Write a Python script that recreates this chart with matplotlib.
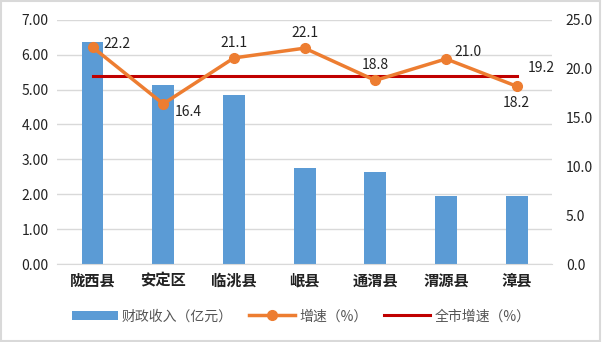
import matplotlib.pyplot as plt
import numpy as np

plt.rcParams['font.family'] = ['Noto Sans CJK SC', 'DejaVu Sans']

counties = ["陇西县", "安定区", "临洮县", "岷县", "通渭县", "渭源县", "漳县"]
revenue = [6.36, 5.13, 4.84, 2.75, 2.64, 1.95, 1.95]
growth = [22.2, 16.4, 21.1, 22.1, 18.8, 21.0, 18.2]
city_growth = [19.2] * 7

blue = '#5B9BD5'
orange = '#ED7D31'
red = '#C00000'

fig = plt.figure(figsize=(6.02, 3.42), dpi=100)
fig.patches.append(plt.Rectangle((0.002, 0.003), 0.995, 0.994, transform=fig.transFigure,
                                 fill=False, edgecolor='#D9D9D9', linewidth=1.5))
ax = fig.add_axes([0.095, 0.228, 0.822, 0.714])
x = np.arange(len(counties))

bars = ax.bar(x, revenue, width=0.31, color=blue, zorder=2)
ax.set_ylim(0, 7)
ax.set_yticks(np.arange(0, 7.01, 1))
ax.set_yticklabels([f"{v:.2f}" for v in np.arange(0, 7.01, 1)], fontsize=10, color='#222222')
ax.set_xlim(-0.5, 6.5)
ax.set_xticks(x)
ax.set_xticklabels(counties, fontsize=11, fontweight='bold', color='#222222')
ax.grid(axis='y', color='#D9D9D9', linewidth=1, zorder=0)
for s in ['top', 'right', 'left']:
    ax.spines[s].set_visible(False)
ax.spines['bottom'].set_color('#D9D9D9')
ax.tick_params(length=0, pad=6)

ax2 = ax.twinx()
ax2.set_ylim(0, 25)
ax2.set_yticks(np.arange(0, 25.1, 5))
ax2.set_yticklabels([f"{v:.1f}" for v in np.arange(0, 25.1, 5)], fontsize=10, color='#222222')
ax2.tick_params(length=0, pad=10)
for s in ['top', 'right', 'left', 'bottom']:
    ax2.spines[s].set_visible(False)

l1, = ax2.plot(x, growth, color=orange, linewidth=2.5, marker='o', markersize=7,
               zorder=3)
l2, = ax2.plot(x, city_growth, color=red, linewidth=2.2, zorder=2)

offsets = [(8, 2, 'left', 'center'), (8, -6, 'left', 'center'), (0, 6, 'center', 'bottom'),
           (0, 6, 'center', 'bottom'), (0, 6, 'center', 'bottom'), (6, 5, 'left', 'center'),
           (0, -7, 'center', 'top')]
for xi, g, (dx, dy, ha, va) in zip(x, growth, offsets):
    ax2.annotate(f"{g:.1f}", (xi, g), xytext=(dx, dy), textcoords='offset points',
                 ha=ha, va=va, fontsize=10, color='#222222')
ax2.annotate(f"{city_growth[-1]:.1f}", (x[-1], city_growth[-1]), xytext=(8, 1),
             textcoords='offset points', ha='left', va='bottom', fontsize=10, color='#222222')

leg = fig.legend([bars, l1, l2], ["财政收入（亿元）", "增速（%）", "全市增速（%）"],
                 loc='center', bbox_to_anchor=(0.5, 0.075), ncol=3, frameon=False,
                 fontsize=10, handlelength=3.3, columnspacing=1.2, handletextpad=0.3,
                 labelcolor='#555555')

fig.savefig('out.png', dpi=100)
